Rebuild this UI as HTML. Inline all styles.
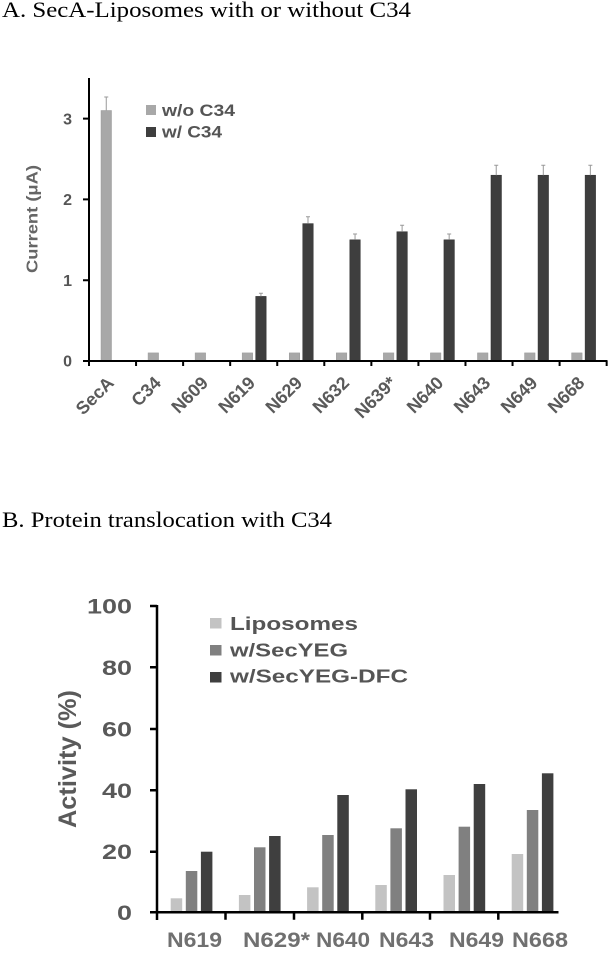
<!DOCTYPE html>
<html><head><meta charset="utf-8"><style>
html,body{margin:0;padding:0;background:#fff;}
svg{display:block;}
.t{font-family:"Liberation Serif",serif;fill:#000;}
.s{font-family:"Liberation Sans",Arial,sans-serif;font-weight:bold;}
</style></head><body>
<svg width="616" height="955" viewBox="0 0 616 955" xmlns="http://www.w3.org/2000/svg">
<rect width="616" height="955" fill="#fff"/>
<text class="t" x="2" y="17" font-size="22" textLength="409" lengthAdjust="spacingAndGlyphs">A. SecA-Liposomes with or without C34</text>
<text class="t" x="2" y="527" font-size="22" textLength="330" lengthAdjust="spacingAndGlyphs">B. Protein translocation with C34</text>

<!-- Chart A -->
<g>
<g fill="#a8a8a8" stroke="#9a9a9a" stroke-width="0.5">
<rect x="101" y="110.5" width="10.5" height="250.5"/>
<rect x="148.06" y="352.9" width="10.5" height="8.1"/>
<rect x="195.12" y="352.9" width="10.5" height="8.1"/>
<rect x="242.18" y="352.9" width="10.5" height="8.1"/>
<rect x="289.24" y="352.9" width="10.5" height="8.1"/>
<rect x="336.3" y="352.9" width="10.5" height="8.1"/>
<rect x="383.36" y="352.9" width="10.5" height="8.1"/>
<rect x="430.42" y="352.9" width="10.5" height="8.1"/>
<rect x="477.48" y="352.9" width="10.5" height="8.1"/>
<rect x="524.54" y="352.9" width="10.5" height="8.1"/>
<rect x="571.6" y="352.9" width="10.5" height="8.1"/>
</g>
<g fill="#3e3e3e" stroke="#2e2e2e" stroke-width="0.5">
<rect x="255.68" y="296.4" width="10.5" height="64.6"/>
<rect x="302.74" y="223.6" width="10.5" height="137.4"/>
<rect x="349.8" y="239.8" width="10.5" height="121.2"/>
<rect x="396.86" y="231.7" width="10.5" height="129.3"/>
<rect x="443.92" y="239.8" width="10.5" height="121.2"/>
<rect x="490.98" y="175.2" width="10.5" height="185.8"/>
<rect x="538.04" y="175.2" width="10.5" height="185.8"/>
<rect x="585.1" y="175.2" width="10.5" height="185.8"/>
</g>
<g stroke="#999" stroke-width="1" fill="none">
<path d="M106.25 110.5V97M104.25 97h4"/>
<path d="M260.93 296.4V293.3M258.93 293.3h4"/>
<path d="M307.99 223.6V216.7M305.99 216.7h4"/>
<path d="M355.05 239.8V234M353.05 234h4"/>
<path d="M402.11 231.7V225.3M400.11 225.3h4"/>
<path d="M449.17 239.8V234M447.17 234h4"/>
<path d="M496.23 175.2V165.3M494.23 165.3h4"/>
<path d="M543.29 175.2V165.3M541.29 165.3h4"/>
<path d="M590.35 175.2V165.3M588.35 165.3h4"/>
</g>
<g stroke="#000" stroke-width="2" fill="none">
<path d="M89 78V362"/>
<path d="M88 361H607.5"/>
<path d="M83 118.6H89M83 199.4H89M83 280.2H89M83 361H89"/>
<path d="M89 361v5M136.06 361v5M183.12 361v5M230.18 361v5M277.24 361v5M324.3 361v5M371.36 361v5M418.42 361v5M465.48 361v5M512.54 361v5M559.6 361v5M606.66 361v5"/>
</g>
<g class="s" fill="#555" font-size="16" text-anchor="end">
<text x="72" y="124.3">3</text>
<text x="72" y="205.1">2</text>
<text x="72" y="285.9">1</text>
<text x="72" y="366.7">0</text>
</g>
<text class="s" fill="#666" font-size="16" text-anchor="middle" transform="translate(37.5,219) rotate(-90)" textLength="108" lengthAdjust="spacingAndGlyphs">Current (μA)</text>
<rect x="146" y="105" width="10" height="10" fill="#a8a8a8"/>
<rect x="146" y="127" width="10" height="10" fill="#3e3e3e"/>
<text class="s" fill="#555" font-size="17" x="162" y="116" textLength="73" lengthAdjust="spacingAndGlyphs">w/o C34</text>
<text class="s" fill="#555" font-size="17" x="162" y="137.7" textLength="60" lengthAdjust="spacingAndGlyphs">w/ C34</text>
<g class="s" fill="#5a5a5a" font-size="18" text-anchor="end">
<text transform="translate(115,384) rotate(-45)">SecA</text>
<text transform="translate(162.1,384) rotate(-45)">C34</text>
<text transform="translate(209.2,384) rotate(-45)">N609</text>
<text transform="translate(256.2,384) rotate(-45)">N619</text>
<text transform="translate(303.3,384) rotate(-45)">N629</text>
<text transform="translate(350.3,384) rotate(-45)">N632</text>
<text transform="translate(397.4,384) rotate(-45)">N639*</text>
<text transform="translate(444.5,384) rotate(-45)">N640</text>
<text transform="translate(491.5,384) rotate(-45)">N643</text>
<text transform="translate(538.6,384) rotate(-45)">N649</text>
<text transform="translate(585.6,384) rotate(-45)">N668</text>
</g>
</g>

<!-- Chart B -->
<g>
<g fill="#c3c3c3">
<rect x="170.7" y="898.3" width="11.5" height="13"/>
<rect x="238.9" y="895" width="11.5" height="16.3"/>
<rect x="307.1" y="887.3" width="11.5" height="24"/>
<rect x="375.3" y="885" width="11.5" height="26.3"/>
<rect x="443.5" y="875" width="11.5" height="36.3"/>
<rect x="511.7" y="854" width="11.5" height="57.3"/>
</g>
<g fill="#808080">
<rect x="185.8" y="871" width="11.5" height="40.3"/>
<rect x="254" y="847.3" width="11.5" height="64"/>
<rect x="322.2" y="835" width="11.5" height="76.3"/>
<rect x="390.4" y="828.3" width="11.5" height="83"/>
<rect x="458.6" y="826.7" width="11.5" height="84.6"/>
<rect x="526.8" y="810" width="11.5" height="101.3"/>
</g>
<g fill="#3f3f3f">
<rect x="200.9" y="851.7" width="11.5" height="59.6"/>
<rect x="269.1" y="836" width="11.5" height="75.3"/>
<rect x="337.3" y="795" width="11.5" height="116.3"/>
<rect x="405.5" y="789.3" width="11.5" height="122"/>
<rect x="473.7" y="784" width="11.5" height="127.3"/>
<rect x="541.9" y="773.3" width="11.5" height="138"/>
</g>
<g stroke="#000" stroke-width="2.5" fill="none">
<path d="M157 605V920"/>
<path d="M150 912.3H558.5"/>
<path d="M150 606H157M150 667.3H157M150 729H157M150 790.3H157M150 851.7H157"/>
<path d="M225.5 912.3v7.5M294 912.3v7.5M362.3 912.3v7.5M430 912.3v7.5M498.3 912.3v7.5"/>
</g>
<g class="s" fill="#595959" font-size="21" text-anchor="end">
<text x="132" y="613.5" textLength="45" lengthAdjust="spacingAndGlyphs">100</text>
<text x="132" y="674.8" textLength="30" lengthAdjust="spacingAndGlyphs">80</text>
<text x="132" y="736.5" textLength="30" lengthAdjust="spacingAndGlyphs">60</text>
<text x="132" y="797.8" textLength="30" lengthAdjust="spacingAndGlyphs">40</text>
<text x="132" y="859.2" textLength="30" lengthAdjust="spacingAndGlyphs">20</text>
<text x="132" y="919.8" textLength="15" lengthAdjust="spacingAndGlyphs">0</text>
</g>
<text class="s" fill="#5a5a5a" font-size="25" text-anchor="middle" transform="translate(76,759) rotate(-90)" textLength="138" lengthAdjust="spacingAndGlyphs">Activity (%)</text>
<rect x="210" y="618" width="11.5" height="10.5" fill="#c3c3c3"/>
<rect x="210" y="645" width="11.5" height="10.5" fill="#808080"/>
<rect x="210" y="672" width="11.5" height="10.5" fill="#3f3f3f"/>
<g class="s" fill="#555" font-size="18.5">
<text x="230" y="630" textLength="128" lengthAdjust="spacingAndGlyphs">Liposomes</text>
<text x="230" y="656.7" textLength="118" lengthAdjust="spacingAndGlyphs">w/SecYEG</text>
<text x="230" y="682.7" textLength="178" lengthAdjust="spacingAndGlyphs">w/SecYEG-DFC</text>
</g>
<g class="s" fill="#707070" font-size="21">
<text x="167" y="947" textLength="55" lengthAdjust="spacingAndGlyphs">N619</text>
<text x="243" y="947" textLength="67" lengthAdjust="spacingAndGlyphs">N629*</text>
<text x="316" y="947" textLength="54" lengthAdjust="spacingAndGlyphs">N640</text>
<text x="379" y="947" textLength="55" lengthAdjust="spacingAndGlyphs">N643</text>
<text x="449" y="947" textLength="55" lengthAdjust="spacingAndGlyphs">N649</text>
<text x="512" y="947" textLength="56" lengthAdjust="spacingAndGlyphs">N668</text>
</g>
</g>
</svg>
</body></html>
